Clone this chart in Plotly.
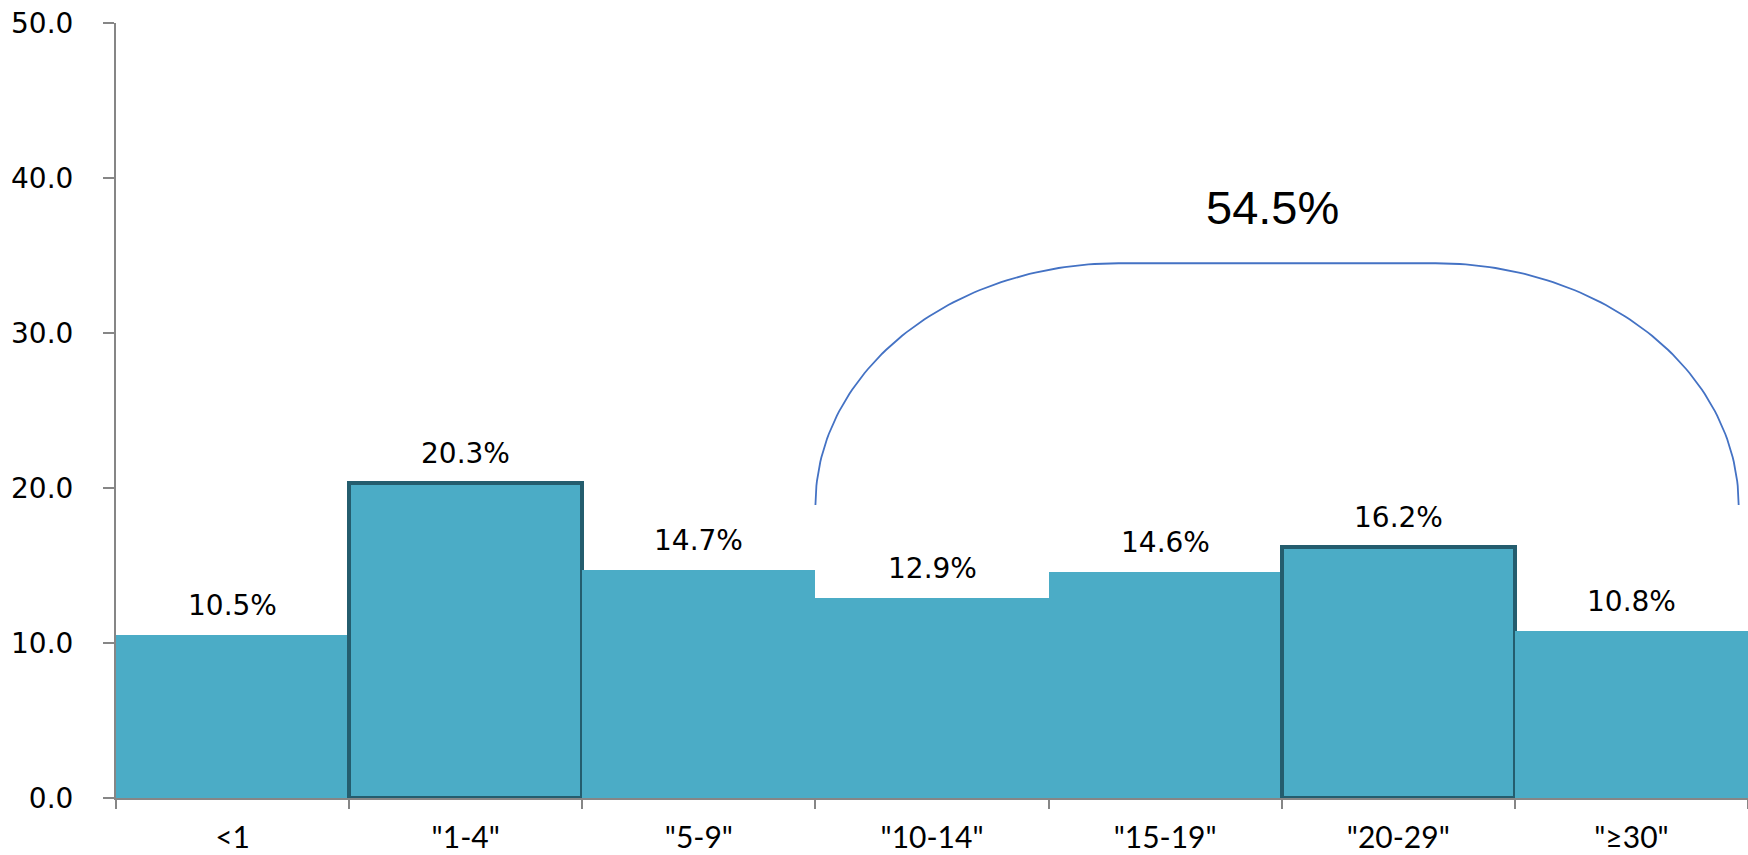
import numpy as np
import plotly.graph_objects as go

categories = ['<1', '"1-4"', '"5-9"', '"10-14"', '"15-19"', '"20-29"', '"≥30"']
values = [10.5, 20.3, 14.7, 12.9, 14.6, 16.2, 10.8]
highlight = [False, True, False, False, False, True, False]
y_ticks = [0, 10, 20, 30, 40, 50]
bracket_label = "54.5%"

BAR_COLOR = "#4BACC6"
EDGE_COLOR = "#245D6E"
AXIS_COLOR = "#868686"
BRACKET_COLOR = "#4472C4"

fig = go.Figure()
fig.add_trace(go.Bar(
    x=categories, y=values,
    marker=dict(
        color=BAR_COLOR,
        line=dict(color=[EDGE_COLOR if h else BAR_COLOR for h in highlight],
                  width=[4 if h else 0 for h in highlight]),
    ),
    hoverinfo="skip", showlegend=False,
))

# bracket (rounded arc) spanning the last four groups
x_left, x_right = 2.5, 6.46
y_base, y_top = 18.9, 34.5
rx = 1.3
ry = y_top - y_base
t1 = np.linspace(np.pi, np.pi / 2, 80)
t2 = np.linspace(np.pi / 2, 0, 80)
bx = np.concatenate([x_left + rx + rx * np.cos(t1), x_right - rx + rx * np.cos(t2)])
by = np.concatenate([y_base + ry * np.sin(t1), y_base + ry * np.sin(t2)])
fig.add_trace(go.Scatter(
    x=bx, y=by, xaxis="x2", yaxis="y", mode="lines",
    line=dict(color=BRACKET_COLOR, width=1.8),
    hoverinfo="skip", showlegend=False,
))

annotations = []
for c, v in zip(categories, values):
    annotations.append(dict(
        x=c, y=v, xref="x", yref="y", text=f"{v:.1f}%", showarrow=False,
        yanchor="bottom", yshift=11,
        font=dict(family="DejaVu Sans", size=28, color="#000000"),
    ))
annotations.append(dict(
    x=4.46, y=38.1, xref="x2", yref="y", text=bracket_label, showarrow=False,
    font=dict(family="Liberation Sans, Arial", size=47, color="#000000"),
))

fig.update_layout(
    width=1748, height=855,
    margin=dict(l=116, r=0, t=23, b=57),
    paper_bgcolor="white", plot_bgcolor="white",
    bargap=0,
    annotations=annotations,
    xaxis=dict(
        type="category", range=[-0.5, 6.5], automargin=False,
        showline=True, linecolor=AXIS_COLOR, linewidth=2,
        ticks="outside", tickson="boundaries", ticklen=9, tickcolor=AXIS_COLOR, tickwidth=2,
        tickfont=dict(family="Lato", size=30, color="#000000"),
        ticklabelstandoff=12,
        showgrid=False, zeroline=False,
    ),
    xaxis2=dict(
        overlaying="x", range=[-0.5, 6.5], visible=False, showgrid=False, zeroline=False,
    ),
    yaxis=dict(
        range=[0, 50], tickvals=y_ticks, tickformat=".1f", automargin=False,
        showline=True, linecolor=AXIS_COLOR, linewidth=2,
        ticks="outside", ticklen=11, tickcolor=AXIS_COLOR, tickwidth=2,
        tickfont=dict(family="DejaVu Sans", size=28, color="#000000"),
        ticklabelstandoff=24,
        showgrid=False, zeroline=False,
    ),
)

fig.write_html(
    "out.html",
    config={"displayModeBar": False},
    post_script="document.body.style.margin='0';document.body.style.overflow='hidden';",
)
